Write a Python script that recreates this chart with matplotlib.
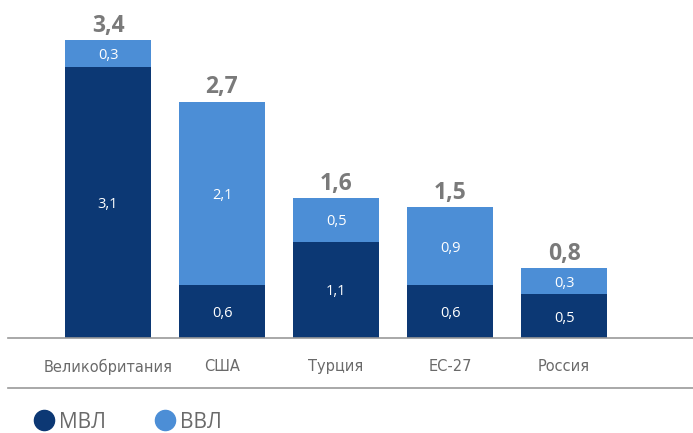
import matplotlib
matplotlib.use("Agg")
import matplotlib.pyplot as plt
from matplotlib.lines import Line2D

categories = ["Великобритания", "США", "Турция", "ЕС-27", "Россия"]
mvl = [3.1, 0.6, 1.1, 0.6, 0.5]
vvl = [0.3, 2.1, 0.5, 0.9, 0.3]
totals = [3.4, 2.7, 1.6, 1.5, 0.8]
series_names = ["МВЛ", "ВВЛ"]

dark = "#0c3874"
light = "#4c8ed6"
grey = "#7a7a7a"

plt.rcParams['font.family'] = ['Open Sans', 'DejaVu Sans']

fig = plt.figure(figsize=(6.93, 4.33), dpi=100)
W, H = 693, 433
ax = fig.add_axes([8 / W, (H - 338) / H, (W - 8) / W, 338 / H])

x = list(range(len(categories)))
ax.bar(x, mvl, width=0.76, color=dark)
ax.bar(x, vvl, width=0.76, bottom=mvl, color=light)

def fmt(v):
    return f"{v:.1f}".replace(".", ",")

for i in x:
    ax.annotate(fmt(mvl[i]), (i, mvl[i] / 2), xytext=(0, -1.5), textcoords="offset points",
                ha="center", va="center", color="white", fontsize=10.5)
    ax.annotate(fmt(vvl[i]), (i, mvl[i] + vvl[i] / 2), xytext=(0, -1.5), textcoords="offset points",
                ha="center", va="center", color="white", fontsize=10.5)
    ax.annotate(fmt(totals[i]), (i, totals[i]), xytext=(0, 1.5), textcoords="offset points",
                ha="center", va="bottom", color=grey, fontsize=16.5, fontweight="bold")

ax.set_xlim(-0.877, 5.13)
ax.set_ylim(0, 3.86)
for s in ["top", "right", "left"]:
    ax.spines[s].set_visible(False)
ax.spines["bottom"].set_color("#999999")
ax.spines["bottom"].set_linewidth(1.2)
ax.set_yticks([])
ax.set_xticks(x)
ax.set_xticklabels(categories, fontsize=10.5, color="#6a6a6a", family="DejaVu Sans")
ax.tick_params(axis="x", length=0, pad=15)

fig.add_artist(Line2D([8 / W, 1], [(H - 388) / H] * 2, color="#999999", linewidth=1.2))

handles = [Line2D([], [], marker="o", linestyle="", markersize=14.5, color=dark),
           Line2D([], [], marker="o", linestyle="", markersize=14.5, color=light)]
fig.legend(handles, series_names, loc="center left", bbox_to_anchor=(34 / W, (H - 422) / H),
           ncol=2, frameon=False, fontsize=15, handletextpad=0.2, columnspacing=2.35,
           handlelength=1.0, borderpad=0, borderaxespad=0, labelcolor="#6a6a6a")

fig.savefig("out.png", dpi=100)
